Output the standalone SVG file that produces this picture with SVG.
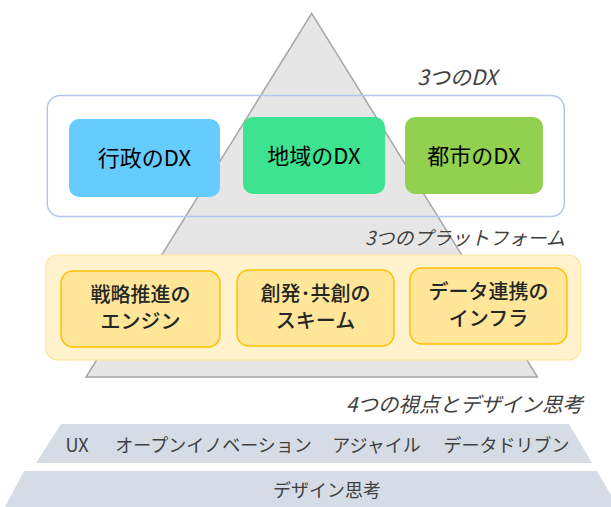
<svg xmlns="http://www.w3.org/2000/svg" width="611" height="507" viewBox="0 0 611 507">
  <style>
    text { font-family: "Noto Sans CJK JP", "Noto Sans", sans-serif; }
    .dx { font-size: 22px; fill: #000; text-anchor: middle; }
    .pf { font-size: 20px; fill: #262626; text-anchor: middle; font-weight: 500; }
    .lbl { font-size: 19px; fill: #404040; font-style: italic; text-anchor: end; }
    .band { fill: #D6DCE5; }
    .bt { font-size: 18px; fill: #404040; text-anchor: middle; }
    .pfbox { fill: #FFE699; stroke: #FFC000; stroke-width: 1.5; }
  </style>
  <rect width="611" height="507" fill="#fff"/>
  <g id="pyramid">
    <polygon points="311.7,13.3 86,377 537.5,377" fill="#E7E6E6" stroke="#A6A6A6" stroke-width="1.5"/>
  </g>
  <g id="dx-group">
    <rect x="47.3" y="95.5" width="517" height="121" rx="13" fill="none" stroke="#B4C7E7" stroke-width="1.5"/>
    <text class="lbl" x="497" y="85" style="font-size:21px">3つのDX</text>
  </g>
  <g id="dx-gov">
    <rect x="69" y="119" width="151" height="78" rx="10" fill="#66CCFF"/>
    <text class="dx" x="144.5" y="166">行政のDX</text>
  </g>
  <g id="dx-region">
    <rect x="243" y="117" width="142" height="77" rx="10" fill="#3EE391"/>
    <text class="dx" x="314" y="164">地域のDX</text>
  </g>
  <g id="dx-city">
    <rect x="405" y="117" width="138" height="77" rx="10" fill="#92D050"/>
    <text class="dx" x="474" y="164">都市のDX</text>
  </g>
  <g id="platform-group">
    <rect x="45.7" y="255" width="535" height="105" rx="12" fill="#FFF2CC" stroke="#FFE699" stroke-width="1.2"/>
    <text class="lbl" x="565" y="245">3つのプラットフォーム</text>
  </g>
  <g id="pf-engine">
    <rect class="pfbox" x="61" y="271" width="159" height="76" rx="12"/>
    <text class="pf" x="140.5" y="302">戦略推進の</text>
    <text class="pf" x="140.5" y="329">エンジン</text>
  </g>
  <g id="pf-scheme">
    <rect class="pfbox" x="237" y="270" width="157" height="76" rx="12"/>
    <text class="pf" x="315.5" y="301">創発･共創の</text>
    <text class="pf" x="315.5" y="328">スキーム</text>
  </g>
  <g id="pf-infra">
    <rect class="pfbox" x="410" y="268" width="157" height="76" rx="12"/>
    <text class="pf" x="488.5" y="299">データ連携の</text>
    <text class="pf" x="488.5" y="326">インフラ</text>
  </g>
  <g id="viewpoints">
    <text class="lbl" x="583" y="412" style="font-size:20.5px">4つの視点とデザイン思考</text>
    <polygon class="band" points="61,424 569,424 592,463 36,463"/>
    <text class="bt" x="77" y="452">UX</text>
    <text class="bt" x="213.5" y="452">オープンイノベーション</text>
    <text class="bt" x="376.5" y="452">アジャイル</text>
    <text class="bt" x="506.5" y="452">データドリブン</text>
  </g>
  <g id="design-thinking">
    <polygon class="band" points="24,471 597,471 618,507 5,507"/>
    <text class="bt" x="327" y="497">デザイン思考</text>
  </g>
  <g id="connectors"></g>
</svg>
